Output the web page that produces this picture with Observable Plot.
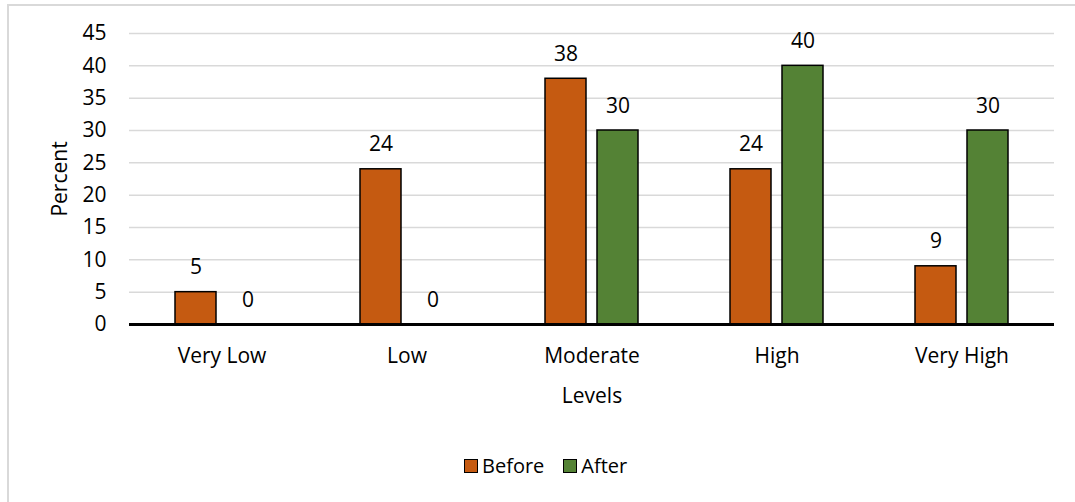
<!DOCTYPE html>
<html>
<head>
<meta charset="utf-8">
<script src="https://cdn.jsdelivr.net/npm/d3@7"></script>
<script src="https://cdn.jsdelivr.net/npm/@observablehq/plot@0.6"></script>
<style>
  html, body { margin: 0; padding: 0; background: white; width: 1075px; height: 502px; overflow: hidden; }
  #frame { position: absolute; left: 7px; top: 4px; width: 1200px; height: 700px;
           border-left: 2px solid #d9d9d9; border-top: 2px solid #d9d9d9; pointer-events: none; z-index: 2; }
  #chart { position: absolute; left: 0; top: 0; z-index: 1; }
  #legend { position: absolute; left: 464px; top: 452px; display: flex; align-items: center;
            font-family: "Open Sans", sans-serif; font-size: 20px; color: #000; z-index: 3; }
  .item { display: flex; align-items: center; margin-right: 19px; }
  .sw { width: 12px; height: 12px; border: 1.5px solid #000; margin-right: 4px; }
</style>
</head>
<body>
<div id="frame"></div>
<div id="chart"></div>
<div id="legend"></div>
<script>
const levels = ["Very Low", "Low", "Moderate", "High", "Very High"];
const series = ["Before", "After"];
const before = [5, 24, 38, 24, 9];
const after = [0, 0, 30, 40, 30];
const yTicks = [0, 5, 10, 15, 20, 25, 30, 35, 40, 45];
const colors = ["#C55A11", "#548235"];

const rows = [];
levels.forEach((lv, i) => {
  rows.push({level: lv, series: "Before", value: before[i]});
  rows.push({level: lv, series: "After", value: after[i]});
});

const plot = Plot.plot({
  width: 1075,
  height: 430,
  marginLeft: 128,
  marginRight: 20,
  marginTop: 33,
  marginBottom: 106,
  style: {fontFamily: "Open Sans, sans-serif", fontSize: "21px", background: "transparent", color: "#000"},
  fx: {domain: levels, padding: 0, tickSize: 0, tickPadding: 24, label: "Levels",
       labelAnchor: "center", labelOffset: 78, labelArrow: "none"},
  x: {domain: series, axis: null, paddingInner: 0.2075, paddingOuter: 0.853},
  y: {domain: [0, 45], ticks: yTicks, tickSize: 0, tickPadding: 23, label: "Percent",
      labelAnchor: "center", labelOffset: 77, labelArrow: "none"},
  color: {domain: series, range: colors},
  marks: [
    Plot.ruleY(yTicks.filter(d => d > 0), {stroke: "#d9d9d9", strokeWidth: 1.5}),
    Plot.barY(rows.filter(d => d.value > 0), {fx: "level", x: "series", y: "value", fill: "series",
      stroke: "#000", strokeWidth: 1.5}),
    Plot.text(rows, {fx: "level", x: "series", y: "value", text: d => String(d.value),
      lineAnchor: "bottom", dy: -18, fill: "#000"}),
    Plot.ruleY([0], {stroke: "#000", strokeWidth: 3})
  ]
});
document.getElementById("chart").appendChild(plot);

const legend = document.getElementById("legend");
series.forEach((s, i) => {
  const item = document.createElement("div");
  item.className = "item";
  const sw = document.createElement("div");
  sw.className = "sw";
  sw.style.background = colors[i];
  const t = document.createElement("span");
  t.textContent = s;
  item.appendChild(sw);
  item.appendChild(t);
  legend.appendChild(item);
});
</script>
</body>
</html>
